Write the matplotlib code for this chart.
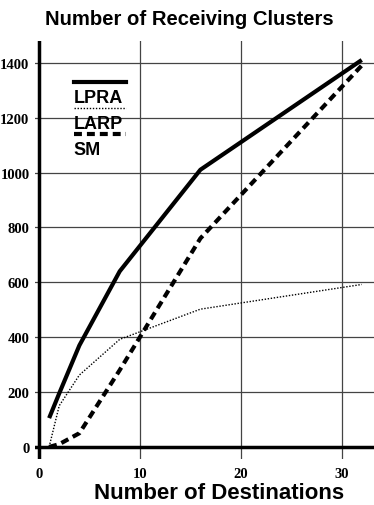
import matplotlib.pyplot as plt

# valores
destinations = [1, 2, 4, 8, 16, 32]
lpra = [105, 195, 370, 640, 1010, 1410]
larp = [0, 150, 262, 392, 502, 592]
sm = [0, 10, 50, 280, 760, 1390]
yticks = [0, 200, 400, 600, 800, 1000, 1200, 1400]
xticks = [0, 10, 20, 30]

fig = plt.figure(figsize=(3.74, 5.06), dpi=100)
ax = fig.add_axes([0.0936, 0.0909, 0.906, 0.826])

dash = (0, (1.9, 1.2))
ax.plot(destinations, lpra, color="black", lw=3.0, solid_capstyle="butt")
ax.plot(destinations, larp, color="black", lw=1.0, ls=(0, (1, 1.2)))
ax.plot(destinations, sm, color="black", lw=3.0, ls=dash)

ax.set_xlim(-0.4, 33.2)
ax.set_ylim(-44, 1479)

# rejilla y ejes en cero
for v in xticks[1:]:
    ax.axvline(v, color="#444444", lw=0.9, zorder=0)
for v in yticks[1:]:
    ax.axhline(v, color="#444444", lw=0.9, zorder=0)
ax.axvline(0, color="black", lw=2.5, zorder=1)
ax.axhline(0, color="black", lw=2.5, zorder=1)

for s in ax.spines.values():
    s.set_visible(False)
ax.tick_params(length=0, pad=4)
ax.set_xticks(xticks)
ax.set_yticks(yticks)
ax.tick_params(axis="x", pad=6)
for lab in ax.get_xticklabels() + ax.get_yticklabels():
    lab.set_fontfamily("Liberation Serif")
    lab.set_fontweight("bold")
    lab.set_fontsize(10.5)

# leyenda a mano: linea arriba, nombre abajo
legend_items = [("LPRA", dict(lw=3.0)), ("LARP", dict(lw=1.0, ls=(0, (1, 1.2)))),
                ("SM", dict(lw=3.0, ls=dash))]
for i, (name, style) in enumerate(legend_items):
    yl = 0.903 - i * 0.0625
    ax.plot([0.115, 0.268], [yl, yl], transform=ax.transAxes, color="black", **style)
    ax.text(0.113, yl - 0.037, name, transform=ax.transAxes, fontsize=13,
            fontweight="bold", family="Liberation Sans", va="center", ha="left")

fig.text(0.507, 0.962, "Number of Receiving Clusters", ha="center", va="center",
         fontsize=14.6, fontweight="bold", family="Liberation Sans")
fig.text(0.585, 0.014, "Number of Destinations", ha="center", va="baseline",
         fontsize=16, fontweight="bold", family="Liberation Sans")

fig.savefig("out.png", dpi=100)
